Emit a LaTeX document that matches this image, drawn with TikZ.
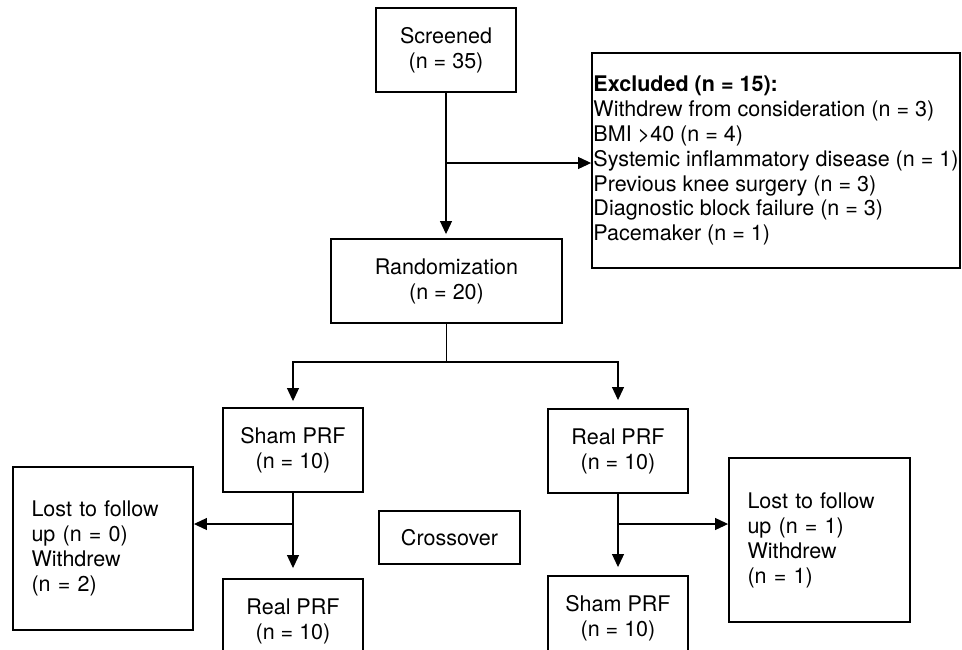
\documentclass[tikz,border=0pt]{standalone}
\usepackage{fontspec}
\setmainfont{TeX Gyre Heros}
\usetikzlibrary{arrows.meta}

\begin{document}
\begin{tikzpicture}[x=0.02cm, y=-0.02cm, >={Triangle[length=2.6mm,width=2.4mm]},
    box/.style={draw, line width=1.1pt, align=center, inner sep=0pt, font=\fontsize{12.25}{14.2}\selectfont},
    prf/.style={box, minimum width=2.8cm, minimum height=1.68cm},
    lost/.style={box, align=left, inner xsep=0.37cm, minimum height=3.27cm},
    line/.style={line width=0.6pt},
    arr/.style={line, ->}]
    \useasboundingbox (0,0) rectangle (962,649);
    \clip (0,0) rectangle (962,649);

    \node[box, minimum width=2.8cm, minimum height=1.68cm] (screened) at (446,50) {Screened\\(n = 35)};
    \node[box, minimum width=7.36cm, minimum height=4.3cm, align=left] (excluded) at (776,160.5)
        {\textbf{Excluded (n = 15):}\\Withdrew from consideration (n = 3)\\BMI \textgreater40 (n = 4)\\Systemic inflammatory disease (n = 1)\\Previous knee surgery (n = 3)\\Diagnostic block failure (n = 3)\\Pacemaker (n = 1)};
    \node[box, minimum width=4.62cm, minimum height=1.68cm] (random) at (446.5,281) {Randomization\\(n = 20)};
    \node[prf] (sham1) at (293,450) {Sham PRF\\(n = 10)};
    \node[prf] (real1) at (618,451) {Real PRF\\(n = 10)};
    \node[prf] (real2) at (293,621) {Real PRF\\(n = 10)};
    \node[prf] (sham2) at (618,618) {Sham PRF\\(n = 10)};
    \node[box, minimum width=2.82cm, minimum height=1.06cm] (cross) at (449.5,537.5) {Crossover};
    \node[lost, text width=2.86cm] (lost1) at (103,548.5) {Lost to follow\\up (n = 0)\\Withdrew\\(n = 2)};
    \node[lost, text width=2.88cm] (lost2) at (819.5,540) {Lost to follow\\up (n = 1)\\Withdrew\\(n = 1)};

    \coordinate (exbranch) at (446,163);
    \coordinate (armbranch) at (446.5,362);
    \coordinate (shambranch) at (293,524);
    \coordinate (realbranch) at (618,524);

    \draw[arr, shorten >=0.08cm] (screened.south) -- (screened.south |- random.north);
    \draw[arr] (exbranch) -- (exbranch -| excluded.west);
    \draw[line] (random.south) -- (armbranch);
    \draw[arr, shorten >=0.12cm] (armbranch) -| (sham1.north);
    \draw[arr, shorten >=0.16cm] (armbranch) -| (real1.north);
    \draw[arr, shorten >=0.2cm] (sham1.south) -- (real2.north);
    \draw[arr] (shambranch) -- (shambranch -| lost1.east);
    \draw[arr, shorten >=0.16cm] (real1.south) -- (sham2.north);
    \draw[arr] (realbranch) -- (realbranch -| lost2.west);
\end{tikzpicture}
\end{document}
